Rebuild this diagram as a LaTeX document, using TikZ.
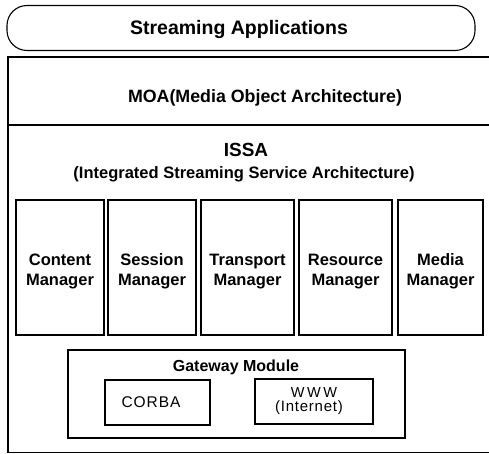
\documentclass[tikz,border=0pt]{standalone}
\usepackage{fontspec}
\setmainfont{Liberation Sans}
\begin{document}
\begin{tikzpicture}[x=1pt,y=-1pt,
  frame/.style={draw=black,line width=1.1pt},
  box/.style={draw=black,line width=1.1pt,inner sep=0pt},
  txt/.style={anchor=base,inner sep=0pt,align=center},
  bfs/.style={font=\fontsize{#1}{#1}\selectfont\bfseries},
  rgs/.style={font=\fontsize{#1}{#1}\selectfont}]
\useasboundingbox (0,0) rectangle (489,454);
% top rounded box
\node[box,rounded corners=20pt,minimum width=468pt,minimum height=45pt] (apps) at (241,28) {};
\node[txt,bfs=19.5] (appsT) at (239,35) {Streaming Applications};
% outer frame
\coordinate (tl) at (8,57);
\coordinate (tr) at (489.5,57);
\coordinate (bl) at (8,452.5);
\coordinate (br) at (489.5,452.5);
\draw[frame] (tr) -- (tl) -- (bl) -- (br);
\coordinate (sl) at (8,125);
\coordinate (sr) at (489.5,125);
\draw[frame] (sl) -- (sr);
\node[txt,bfs=17.8] (moa) at (265,103) {MOA(Media Object Architecture)};
\node[txt,bfs=19] (issa) at (246,157) {ISSA};
\node[txt,bfs=16.5] (issaSub) at (244,179) {(Integrated Streaming Service Architecture)};
% managers
\foreach \n/\cx/\w/\a/\b in {m1/60/88/Content/Manager, m2/152/88/Session/Manager, m3/247.5/93/Transport/Manager, m4/345.5/93/Resource/Manager, m5/440.5/85/Media/Manager}{
  \node[box,minimum width=\w pt,minimum height=135pt] (\n) at (\cx,267.5) {};
  \node[txt,bfs=16.5] (\n a) at (\cx,265) {\a};
  \node[txt,bfs=16.5] (\n b) at (\cx,285) {\b};
}
% gateway
\node[box,minimum width=337pt,minimum height=88pt] (gw) at (236.5,394) {};
\node[txt,bfs=16] (gwT) at (236,371) {Gateway Module};
\node[box,minimum width=105pt,minimum height=45pt] (corba) at (157.5,402.5) {};
\node[txt,rgs=15.5] (corbaT) at (151,407) {\addfontfeature{LetterSpace=6}CORBA};
\node[box,minimum width=118pt,minimum height=45pt] (www) at (314,401.5) {};
\node[txt,rgs=14.5] (wwwT) at (314,397) {\addfontfeature{LetterSpace=18}WWW};
\node[txt,rgs=15] (inet) at (309,411) {\addfontfeature{LetterSpace=5}(Internet)};
\end{tikzpicture}
\end{document}
